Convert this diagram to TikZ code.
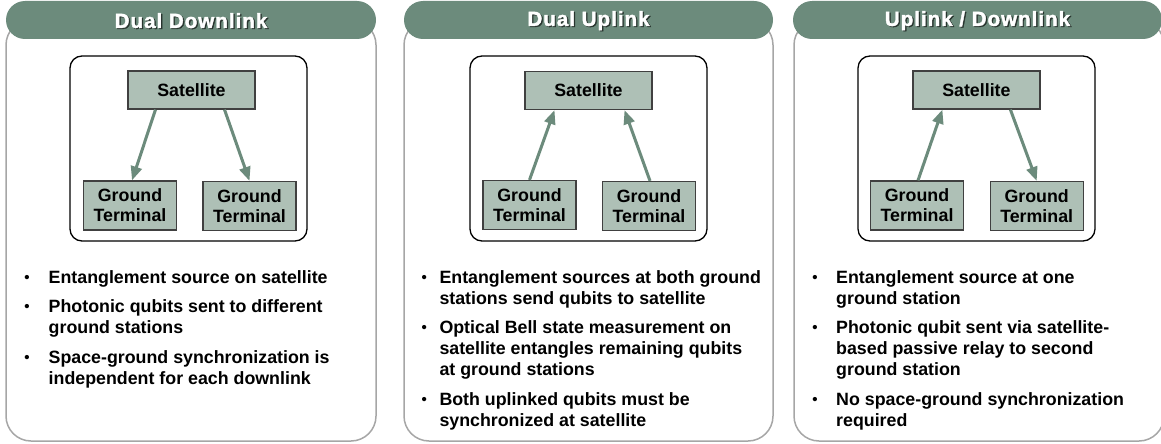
\documentclass[tikz,border=0pt]{standalone}
\usepackage{fontspec}
\setmainfont{Liberation Sans}
\newfontfamily\hdrfont{Liberation Sans}[LetterSpace=5,FakeBold=2]
\usetikzlibrary{arrows.meta}

\definecolor{hdrgreen}{RGB}{108,139,124}
\definecolor{boxfill}{RGB}{174,192,182}
\definecolor{panelgray}{RGB}{166,166,166}
\definecolor{shade}{RGB}{40,52,46}

\tikzset{
  panelbox/.style={draw=panelgray, line width=1.5pt, fill=white, rounded corners=25pt},
  hdr/.style={fill=hdrgreen, rounded corners=19pt, minimum height=38pt, inner sep=0pt},
  hdrtext/.style={inner sep=0pt, text=white, font=\hdrfont\bfseries\fontsize{20.5}{24}\selectfont},
  hdrshadow/.style={hdrtext, text=shade},
  framebox/.style={draw=black, line width=1.3pt, rounded corners=12pt, inner sep=0pt},
  unitbox/.style={draw=black!75, line width=1.2pt, fill=boxfill, inner sep=0pt,
    align=center, font=\bfseries\fontsize{17.8}{20}\selectfont},
  satbox/.style={unitbox, minimum width=127pt, minimum height=38pt},
  gtbox/.style={unitbox, minimum width=93pt, minimum height=49pt},
  link/.style={draw=hdrgreen, line width=3pt, -{Triangle[length=14pt,width=11pt]}},
  txt/.style={anchor=base west, inner sep=0pt, font=\bfseries\fontsize{17.8}{21}\selectfont},
  bul/.style={anchor=base, inner sep=0pt, font=\bfseries\fontsize{15}{21}\selectfont, yshift=1pt},
}

\begin{document}
\begin{tikzpicture}[x=1pt, y=-1pt]
  \useasboundingbox (0,0) rectangle (1161,444);
  \clip (0,0) rectangle (1161,444);

  % ---------- panel frames ----------
  \draw[panelbox] (6,20) rectangle (376,441);
  \draw[panelbox] (404,20) rectangle (773,441);
  \draw[panelbox] (794,20) rectangle (1164,441);

  % ---------- headers (bar, drop shadow, title) ----------
  \node[hdr, minimum width=370pt] (h1) at (191,20) {};
  \node[hdr, minimum width=369pt] (h2) at (588.5,20) {};
  \node[hdr, minimum width=369pt] (h3) at (977.5,20) {};
  \node[hdrshadow] (h1s) at ([shift={(1.3pt,-1.6pt)}]h1.center) {Dual Downlink};
  \node[hdrshadow] (h2s) at ([shift={(1.3pt,-1.6pt)}]h2.center) {Dual Uplink};
  \node[hdrshadow] (h3s) at ([shift={(1.3pt,-1.6pt)}]h3.center) {Uplink / Downlink};
  \node[hdrtext] (h1t) at ([yshift=-0.6pt]h1.center) {Dual Downlink};
  \node[hdrtext] (h2t) at ([yshift=-0.6pt]h2.center) {Dual Uplink};
  \node[hdrtext] (h3t) at ([yshift=-0.6pt]h3.center) {Uplink / Downlink};

  % ---------- Dual Downlink ----------
  \node[framebox, minimum width=237pt, minimum height=185pt] (f1) at (188.5,148.5) {};
  \node[satbox] (s1) at (191.5,90) {Satellite};
  \node[gtbox] (g1a) at (130,205.5) {Ground\\Terminal};
  \node[gtbox] (g1b) at (249.5,206) {Ground\\Terminal};
  \draw[link] ([xshift=-36pt]s1.south) -- ([xshift=2pt]g1a.north);
  \draw[link] ([xshift=33pt]s1.south) -- (g1b.north);

  \node[bul] (b1a) at (27,283) {\textbullet};
  \node[txt] (t1a) at (48.5,283) {Entanglement source on satellite};
  \node[bul] (b1b) at (27,312.5) {\textbullet};
  \node[txt] (t1b) at (48.5,312.5) {Photonic qubits sent to different};
  \node[txt] (t1c) at (48.5,333.5) {ground stations};
  \node[bul] (b1c) at (27,363) {\textbullet};
  \node[txt] (t1d) at (48.5,363) {Space-ground synchronization is};
  \node[txt] (t1e) at (48.5,384) {independent for each downlink};

  % ---------- Dual Uplink ----------
  \node[framebox, minimum width=237pt, minimum height=185pt] (f2) at (588.5,148.5) {};
  \node[satbox] (s2) at (588.5,90.5) {Satellite};
  \node[gtbox] (g2a) at (529.5,205) {Ground\\Terminal};
  \node[gtbox] (g2b) at (649,206) {Ground\\Terminal};
  \draw[link] (g2a.north) -- ([xshift=-34pt]s2.south);
  \draw[link] ([xshift=1pt]g2b.north) -- ([xshift=36pt]s2.south);

  \node[bul] (b2a) at (424.3,283) {\textbullet};
  \node[txt] (t2a) at (439.3,283) {Entanglement sources at both ground};
  \node[txt] (t2b) at (439.3,304) {stations send qubits to satellite};
  \node[bul] (b2b) at (424.3,333.5) {\textbullet};
  \node[txt] (t2c) at (439.3,333.5) {Optical Bell state measurement on};
  \node[txt] (t2d) at (439.3,354.5) {satellite entangles remaining qubits};
  \node[txt] (t2e) at (439.3,375.5) {at ground stations};
  \node[bul] (b2c) at (424.3,405) {\textbullet};
  \node[txt] (t2f) at (439.3,405) {Both uplinked qubits must be};
  \node[txt] (t2g) at (439.3,426) {synchronized at satellite};

  % ---------- Uplink / Downlink ----------
  \node[framebox, minimum width=237pt, minimum height=185pt] (f3) at (976.5,148.5) {};
  \node[satbox] (s3) at (976.4,90) {Satellite};
  \node[gtbox] (g3a) at (917,205.5) {Ground\\Terminal};
  \node[gtbox] (g3b) at (1036.7,206) {Ground\\Terminal};
  \draw[link] ([xshift=1pt]g3a.north) -- ([xshift=-34pt]s3.south);
  \draw[link] ([xshift=34pt]s3.south) -- (g3b.north);

  \node[bul] (b3a) at (815,283) {\textbullet};
  \node[txt] (t3a) at (836,283) {Entanglement source at one};
  \node[txt] (t3b) at (836,304) {ground station};
  \node[bul] (b3b) at (815,333.5) {\textbullet};
  \node[txt] (t3c) at (836,333.5) {Photonic qubit sent via satellite-};
  \node[txt] (t3d) at (836,354.5) {based passive relay to second};
  \node[txt] (t3e) at (836,375.5) {ground station};
  \node[bul] (b3c) at (815,405) {\textbullet};
  \node[txt] (t3f) at (836,405) {No space-ground synchronization};
  \node[txt] (t3g) at (836,426) {required};
\end{tikzpicture}
\end{document}
